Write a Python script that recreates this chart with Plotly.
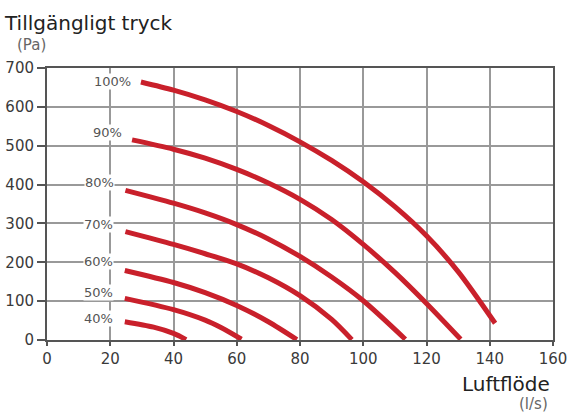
import plotly.graph_objects as go

# Data
x100 = [29.7, 40, 50, 60, 70, 80, 90, 100, 110, 120, 130, 141.7]
y100 = [664, 643, 618, 588, 552, 510, 462, 407, 343, 268, 176, 43]
x90 = [26.9, 40, 50, 60, 70, 80, 90, 100, 110, 120, 130.8]
y90 = [515, 491, 468, 439, 404, 362, 310, 246, 174, 94, 2]
x80 = [24.8, 40, 50, 60, 70, 80, 90, 100, 113.3]
y80 = [385, 352, 327, 297, 260, 215, 162, 101, 2]
x70 = [24.8, 40, 50, 60, 70, 80, 90, 96.4]
y70 = [279, 246, 222, 196, 160, 114, 53, 1]
x60 = [24.6, 40, 50, 60, 70, 79]
y60 = [179, 148, 122, 89, 47, 1]
x50 = [24.6, 40, 50, 55, 61.5]
y50 = [107, 78, 51, 32, 2]
x40 = [24.6, 33.7, 40, 44]
y40 = [47, 33, 17, 1]

series = [("100%", x100, y100), ("90%", x90, y90), ("80%", x80, y80),
          ("70%", x70, y70), ("60%", x60, y60), ("50%", x50, y50), ("40%", x40, y40)]

label_names = ["100%", "90%", "80%", "70%", "60%", "50%", "40%"]
label_x = [20.6, 19.1, 16.5, 16.2, 16.2, 16.2, 16.2]
label_y = [665, 533, 406, 296, 202, 122, 56]

x_ticks = [0, 20, 40, 60, 80, 100, 120, 140, 160]
y_ticks = [0, 100, 200, 300, 400, 500, 600, 700]

FONT = "DejaVu Sans"
RED = "#c9202b"

fig = go.Figure()
for name, xs, ys in series:
    fig.add_trace(go.Scatter(x=xs, y=ys, mode="lines", name=name,
                             line=dict(color=RED, width=5, shape="spline", smoothing=0.8),
                             showlegend=False, hoverinfo="skip"))

for n, lx, ly in zip(label_names, label_x, label_y):
    fig.add_annotation(x=lx, y=ly, text=n, showarrow=False, xref="x", yref="y",
                       font=dict(family=FONT, size=13, color="#555555"),
                       bgcolor="white", borderpad=0)

fig.add_annotation(x=-0.089, y=1.115, xref="paper", yref="paper", xanchor="left", yanchor="bottom",
                   text="Tillgängligt tryck", showarrow=False,
                   font=dict(family=FONT, size=20, color="#222222"))
fig.add_annotation(x=-0.063, y=1.045, xref="paper", yref="paper", xanchor="left", yanchor="bottom",
                   text="(Pa)", showarrow=False,
                   font=dict(family=FONT, size=15, color="#666666"))
fig.add_annotation(x=0.998, y=-0.11, xref="paper", yref="paper", xanchor="right", yanchor="top",
                   text="Luftflöde", showarrow=False,
                   font=dict(family=FONT, size=20, color="#222222"))
fig.add_annotation(x=0.994, y=-0.276, xref="paper", yref="paper", xanchor="right", yanchor="bottom",
                   text="(l/s)", showarrow=False,
                   font=dict(family=FONT, size=15, color="#666666"))

axis_common = dict(showline=True, linecolor="#555555", linewidth=2, mirror=True,
                   showgrid=True, gridcolor="#999999", gridwidth=1.5,
                   ticks="outside", tickcolor="#555555", tickwidth=1.5,
                   tickfont=dict(family=FONT, size=15, color="#3a3a3a"), zeroline=False,
                   automargin=False)

fig.update_xaxes(range=[0, 160], tickvals=x_ticks, ticklen=4, **axis_common)
fig.update_yaxes(range=[0, 700], tickvals=y_ticks, ticklen=8, **axis_common)

fig.update_layout(width=568, height=416, margin=dict(l=47, r=15, t=68, b=76),
                  plot_bgcolor="white", paper_bgcolor="white",
                  font=dict(family=FONT))

fig.write_html("out.html", config={"displayModeBar": False},
               post_script="document.body.style.margin='0';document.body.style.overflow='hidden';")
